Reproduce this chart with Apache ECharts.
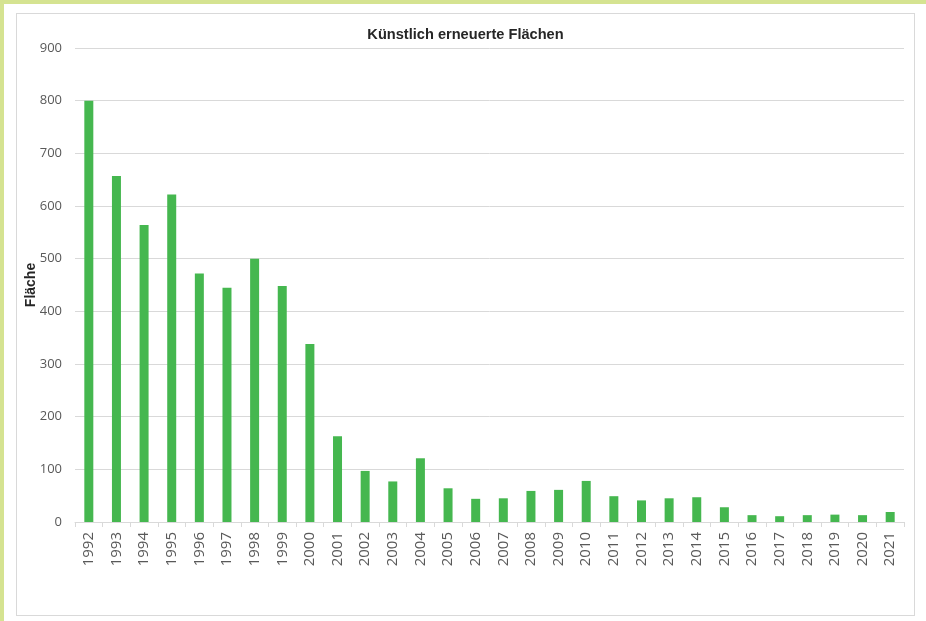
<!DOCTYPE html>
<html>
<head>
<meta charset="utf-8">
<script src="https://cdn.jsdelivr.net/npm/echarts@6/dist/echarts.min.js"></script>
<style>
  html, body { margin: 0; padding: 0; background: #ffffff; }
  #page {
    position: relative; width: 926px; height: 621px; box-sizing: border-box;
    border-top: 4px solid #d5e391; border-left: 4px solid #d5e391; background: #ffffff;
  }
  #chart {
    position: absolute; left: 12px; top: 9px; width: 899px; height: 603px;
    box-sizing: border-box; border: 1px solid #d9d9d9; background: #ffffff;
  }
</style>
</head>
<body>
<div id="page"><div id="chart"></div></div>
<script>
// Künstlich erneuerte Flächen, 1992–2021
const years = ['1992','1993','1994','1995','1996','1997','1998','1999','2000','2001',
               '2002','2003','2004','2005','2006','2007','2008','2009','2010','2011',
               '2012','2013','2014','2015','2016','2017','2018','2019','2020','2021'];
const flaeche = [800, 657, 564, 622, 472, 445, 500, 448, 338, 163,
                 97, 77, 121, 64, 44, 45, 59, 61, 78, 49,
                 41, 45, 47, 28, 13, 11, 13, 14, 13, 19];
const yTicks = { min: 0, max: 900, step: 100 };

const chart = echarts.init(document.getElementById('chart'), null, { renderer: 'canvas' });
chart.setOption({
  animation: false,
  backgroundColor: '#ffffff',
  title: {
    text: 'Künstlich erneuerte Flächen',
    left: 'center',
    top: 8,
    textStyle: { fontFamily: 'Liberation Sans', fontWeight: 'bold', fontSize: 14.6, color: '#262626' }
  },
  grid: { left: 58, top: 34, width: 829, height: 474, containLabel: false, outerBoundsMode: 'none' },
  xAxis: {
    type: 'category',
    data: years,
    axisLine: { lineStyle: { color: '#d9d9d9', width: 1 } },
    axisTick: { show: true, length: 5, lineStyle: { color: '#d9d9d9' } },
    axisLabel: { rotate: 90, margin: 10, fontFamily: 'Open Sans', fontSize: 15, color: '#595959' }
  },
  yAxis: {
    type: 'value',
    min: yTicks.min, max: yTicks.max, interval: yTicks.step,
    name: 'Fläche',
    nameLocation: 'middle',
    nameGap: 37,
    nameMoveOverlap: false,
    nameTextStyle: { fontFamily: 'Liberation Sans', fontWeight: 'bold', fontSize: 14, color: '#262626' },
    axisLine: { show: false },
    axisTick: { show: false },
    axisLabel: { margin: 13, fontFamily: 'Open Sans', fontSize: 13, color: '#595959' },
    splitLine: { lineStyle: { color: '#d9d9d9', width: 1 } }
  },
  series: [{
    type: 'bar',
    data: flaeche,
    barWidth: 9,
    itemStyle: { color: '#45b74f' }
  }]
});
</script>
</body>
</html>
